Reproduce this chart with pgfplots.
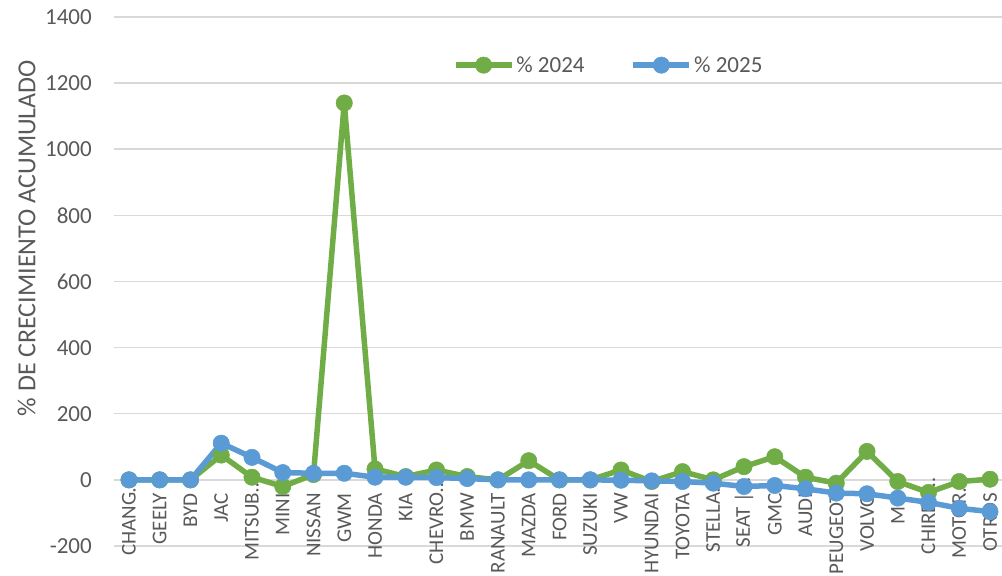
\documentclass[border=0pt]{standalone}
\usepackage{pgfplots}
\pgfplotsset{compat=1.18}
\usepackage{fontspec}
\setmainfont{Carlito}
\definecolor{g24}{HTML}{70AD47}
\definecolor{b25}{HTML}{5B9BD5}
\definecolor{txt}{HTML}{595959}
\definecolor{grd}{HTML}{D9D9D9}
\newcommand{\tr}[1]{#1…\hspace*{-15pt}}
\pgfplotsset{layers/labels on top/.define layer set={axis background,axis grid,main,axis ticks,axis lines,axis tick labels,axis descriptions,axis foreground}{}}
\begin{document}
\begin{tikzpicture}
\begin{axis}[name=ax, set layers=labels on top,
    scale only axis, width=888pt, height=529pt,
    xmin=-0.488, xmax=28.39, ymin=-200, ymax=1400,
    ytick={-200,0,...,1400},
    xtick={0,...,28},
    xticklabels={\tr{CHANG},GEELY,BYD,JAC,\tr{MITSUB},MINI,NISSAN,GWM,HONDA,KIA,\tr{CHEVRO},BMW,RANAULT,MAZDA,FORD,SUZUKI,VW,HYUNDAI,TOYOTA,\tr{STELLA},\tr{SEAT |},GMC,AUDI,PEUGEOT,VOLVO,MG,\tr{CHIREY},\tr{MOTOR},OTROS},
    axis line style={draw=none},
    major tick length=0pt,
    ymajorgrids, grid style={grd, line width=1.5pt},
    /pgf/number format/assume math mode=true,
    /pgf/number format/1000 sep={},
    tick label style={text=txt},
    xticklabel style={font=\fontsize{21}{25}\selectfont, rotate=90, anchor=east, inner sep=0pt},
    xticklabel shift=-53pt,
    yticklabel style={font=\fontsize{23}{27}\selectfont, inner sep=0pt},
    yticklabel shift=22pt,
    ylabel={\% DE CRECIMIENTO ACUMULADO},
    every axis y label/.style={at={([xshift=-87.5pt]rel axis cs:0,0.582)}, rotate=90, anchor=center,
        font=\fontsize{26}{30}\selectfont, text=txt},
    legend columns=2,
    legend style={at={(rel axis cs:0.557,0.909)}, anchor=center, draw=none, fill=none,
        font=\fontsize{23}{27}\selectfont, text=txt,
        /tikz/every even column/.append style={column sep=44pt}},
    legend image code/.code={\draw[#1, mark repeat=2, mark phase=2] plot coordinates {(0pt,0pt) (28pt,0pt) (56pt,0pt)};},
    every axis plot/.append style={line width=5.5pt, mark=*, mark size=8.2pt},
]
\addplot[g24, mark options={fill=g24, draw=g24, line width=0.5pt}] table[x=i, y=v] {
i v
0 0
1 0
2 0
3 75
4 8
5 -20
6 16
7 1140
8 33
9 10
10 30
11 10
12 0
13 58
14 0
15 0
16 30
17 -5
18 25
19 0
20 40
21 70
22 8
23 -10
24 86
25 -5
26 -38
27 -5
28 2
};
\addlegendentry{\% 2024}
\addplot[b25, mark options={fill=b25, draw=b25, line width=0.5pt}] table[x=i, y=v] {
i v
0 0
1 0
2 0
3 111
4 68
5 22
6 20
7 20
8 8
9 8
10 7
11 4
12 0
13 0
14 0
15 0
16 -1
17 -3
18 -5
19 -10
20 -20
21 -17
22 -27
23 -40
24 -42
25 -55
26 -68
27 -86
28 -96
};
\addlegendentry{\% 2025}
\end{axis}
\pgfresetboundingbox
\path ([xshift=-114pt, yshift=-30pt]ax.south west) rectangle ([yshift=17pt]ax.north east);
\end{tikzpicture}
\end{document}
